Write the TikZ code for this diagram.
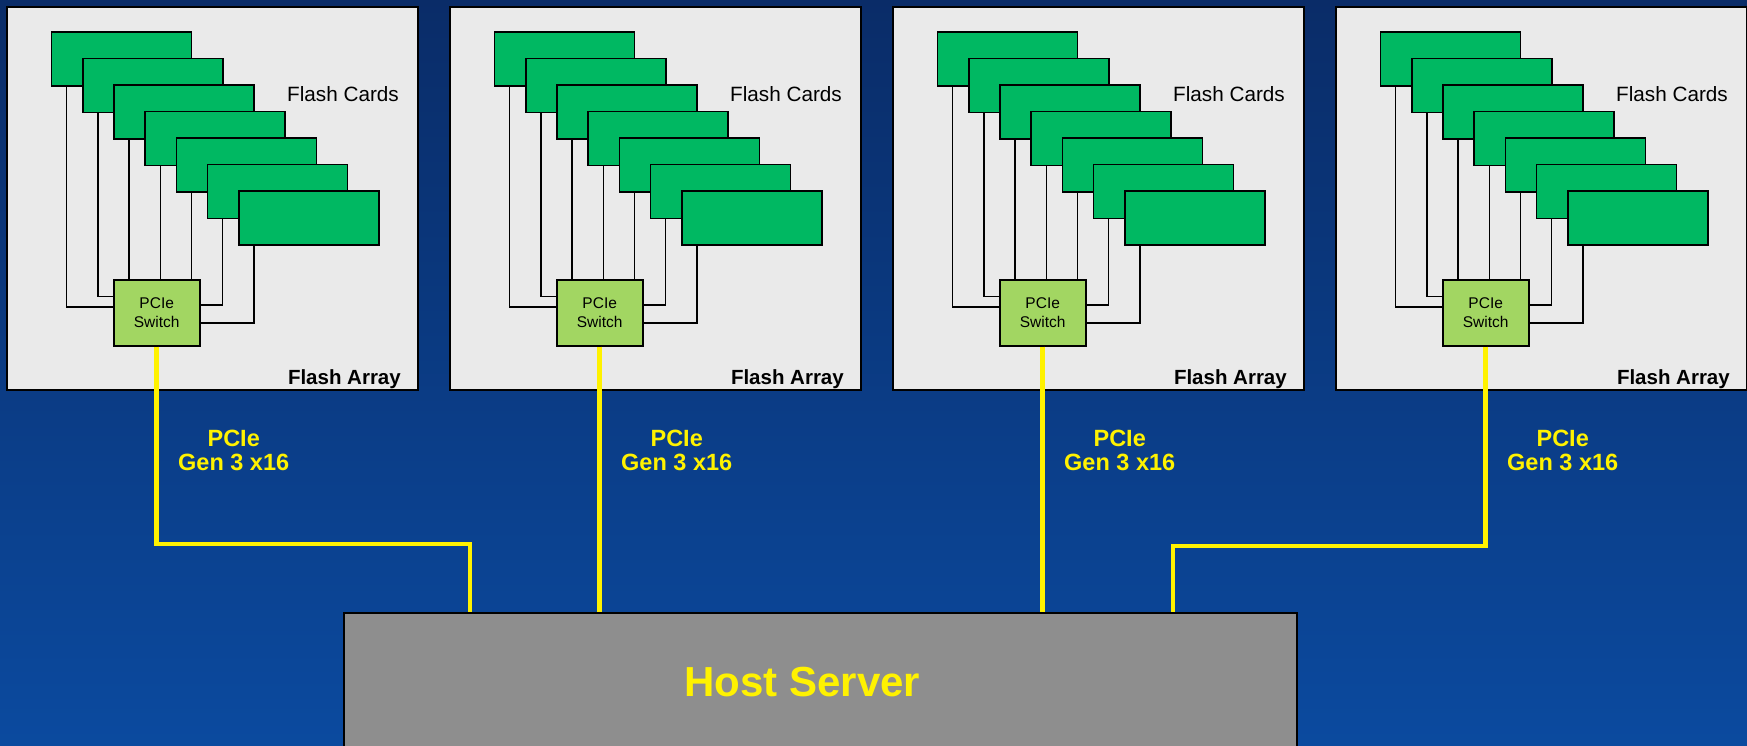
\documentclass[tikz,border=0pt]{standalone}
\usepackage{fontspec}
\setmainfont{Liberation Sans}
\usetikzlibrary{positioning}
\definecolor{bgtop}{HTML}{0A2C68}
\definecolor{bgbottom}{HTML}{0B4A9F}
\definecolor{panelgray}{HTML}{EAEAEA}
\definecolor{cardgreen}{HTML}{00B862}
\definecolor{switchgreen}{HTML}{A2D662}
\definecolor{hostgray}{HTML}{8E8E8E}
\tikzstyle{flasharray} = [rectangle, minimum width=411pt, minimum height=383pt, draw=black, line width=2pt, fill=panelgray]
\tikzstyle{flashcard} = [rectangle, minimum width=140pt, minimum height=54pt, draw=black, line width=1.6pt, fill=cardgreen]
\tikzstyle{pcieswitch} = [rectangle, minimum width=86pt, minimum height=66pt, align=center, draw=black, line width=1.6pt, fill=switchgreen, font=\fontsize{15.5}{19.5}\selectfont]
\tikzstyle{host} = [rectangle, minimum width=953pt, minimum height=138pt, draw=black, line width=1.6pt, fill=hostgray, text=yellow, font=\fontsize{42}{48}\selectfont\bfseries]
\tikzstyle{cardlabel} = [inner sep=0pt, font=\fontsize{20.7}{24}\selectfont]
\tikzstyle{arraylabel} = [inner sep=0pt, font=\fontsize{20.5}{24}\selectfont\bfseries]
\tikzstyle{linklabel} = [align=center, text=yellow, inner sep=0pt, font=\fontsize{23.5}{24.5}\selectfont\bfseries]
\tikzstyle{wire} = [line width=1.4pt, draw=black]
\tikzstyle{pcielink} = [line width=4.5pt, draw=yellow]

\begin{document}
\begin{tikzpicture}[x=1pt, y=-1pt, on grid]
\useasboundingbox (0,0) rectangle (1747,746);
\fill [top color=bgtop, bottom color=bgbottom] (0,0) rectangle (1747,746);

\foreach \i in {1,...,4} {
  \node (array\i) [flasharray] at (212.5+443*\i-443, 198.5) {};
  \node (cards\i) [cardlabel] at ([shift={(337,88)}]array\i.north west) {Flash Cards};
  \node (arraylbl\i) [arraylabel, anchor=base east] at ([shift={(-18,-7)}]array\i.south east) {Flash Array};
  \node (card\i_0) [flashcard] at ([shift={(115.5,52.8)}]array\i.north west) {};
  \coordinate (tap\i_0) at ([xshift=16pt]card\i_0.south west);
  \foreach \j [count=\k from 0] in {1,...,6} {
    \node (card\i_\j) [flashcard, below right=26.55pt and 31.2pt of card\i_\k] {};
    \coordinate (tap\i_\j) at ([xshift=16pt]card\i_\j.south west);
  }
  \node (switch\i) [pcieswitch, below right=254pt and 35.2pt of card\i_0] {PCIe\\Switch};
  \draw [wire] (tap\i_0) |- ([yshift=5.7pt]switch\i.west);
  \draw [wire] (tap\i_1) |- ([yshift=16.3pt]switch\i.west);
  \draw [wire] (tap\i_2) -- (tap\i_2 |- switch\i.north);
  \draw [wire] (tap\i_3) -- (tap\i_3 |- switch\i.north);
  \draw [wire] (tap\i_4) -- (tap\i_4 |- switch\i.north);
  \draw [wire] (tap\i_5) |- ([yshift=8pt]switch\i.east);
  \draw [wire] (tap\i_6) |- ([yshift=-10.3pt]switch\i.east);
  \node (link\i) [linklabel] at ([shift={(77,104)}]switch\i.south) {PCIe\\Gen 3 x16};
}

\node (host_server) [host] at (820.5,682) {Host Server\kern36pt};
\coordinate (bend1) at (470,544);
\coordinate (bend4) at (1173,546);
\draw [pcielink] (switch1.south) |- (bend1) -- (bend1 |- host_server.north);
\draw [pcielink] (switch2.south) -- (switch2.south |- host_server.north);
\draw [pcielink] (switch3.south) -- (switch3.south |- host_server.north);
\draw [pcielink] (switch4.south) |- (bend4) -- (bend4 |- host_server.north);
\end{tikzpicture}
\end{document}
